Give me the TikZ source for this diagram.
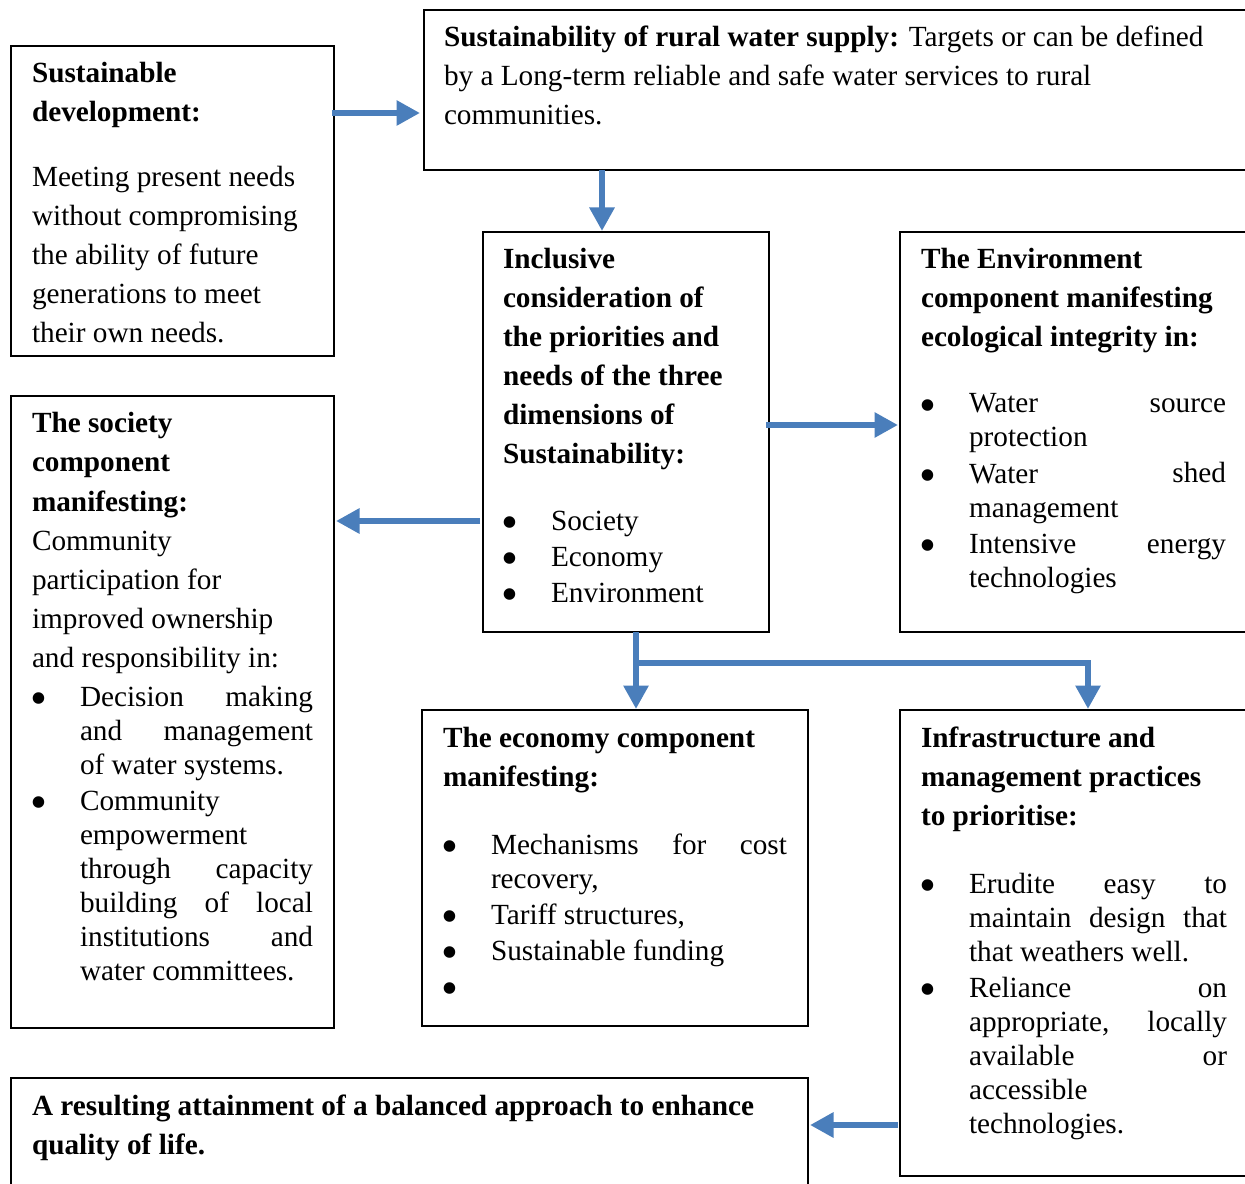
\documentclass[tikz,border=0pt]{standalone}
\usepackage{fontspec}
\setmainfont{Liberation Serif}
\usepackage{xcolor}
\usetikzlibrary{arrows.meta}
\usetikzlibrary{calc}

\definecolor{arrowblue}{RGB}{74,126,187}
\newdimen\px
\px=0.4pt
\newcommand{\boxtext}[3]{\parbox[t][#2\px][t]{#1\px}{\tolerance=10000\hbadness=10000\hyphenpenalty=10000\exhyphenpenalty=10000%
\fontsize{11.7pt}{15.6pt}\selectfont\vspace*{11\px}\rule{0pt}{26\px}#3}}
\newcommand{\listfont}{\par\fontsize{11.7pt}{13.6pt}\selectfont}
\newcommand{\bigdot}{\raisebox{-0.3em}[0pt][0pt]{\scalebox{1.65}{\textbullet}}}
\newcommand{\bitem}{\par\vspace{2\px}\hangindent=48\px\hangafter=1\noindent\makebox[48\px][l]{\hspace{-1.4\px}\bigdot}}

\begin{document}
\begin{tikzpicture}[x=0.4pt,y=-0.4pt,
  panel/.style={draw,line width=0.5pt,anchor=north west,inner xsep=21\px,inner ysep=0pt,outer sep=0pt},
  flow/.style={draw=arrowblue,line width=2.4pt,-{Triangle[length=9.4pt,width=9.6pt]}}]
\useasboundingbox (0,0) rectangle (1245,1184);
\clip (0,0) rectangle (1245,1184);

\node[panel] (sd) at (11,46) {\boxtext{281}{310}{{\bfseries Sustainable\\ development:}\par\vspace{26\px}%
Meeting present needs\\ without compromising\\ the ability of future\\ generations to meet\\ their own needs.}};
\node[panel,inner xsep=20\px] (rws) at (424,10) {\boxtext{800}{160}{{\bfseries Sustainability of rural water supply:} Targets or can be defined\\
by a Long-term reliable and safe water services to rural\\ communities.}};
\node[panel,inner xsep=20\px] (incl) at (483,232) {\boxtext{246}{400}{{\bfseries Inclusive\\ consideration of\\ the priorities and\\ needs of the three\\ dimensions of\\ Sustainability:}\par\vspace{30\px}\listfont
\bitem Society
\bitem Economy
\bitem Environment}};
\node[panel] (env) at (900,232) {\boxtext{305}{400}{{\bfseries The Environment\\ component manifesting\\ ecological integrity in:}\par\vspace{30\px}\listfont
\bitem Water source\linebreak protection
\bitem Water shed\linebreak management
\bitem Intensive energy\linebreak technologies}\hspace*{30\px}};
\node[panel] (soc) at (11,396) {\boxtext{281}{632}{{\bfseries The society\\ component\\ manifesting:}\\ Community\\ participation for\\ improved ownership\\ and responsibility in:\par\vspace{3\px}\listfont
\bitem Decision making\linebreak and management\linebreak of water systems.
\bitem Community\\ empowerment\\ through capacity\linebreak building of local\linebreak institutions and\linebreak water committees.}};
\node[panel] (eco) at (422,710) {\boxtext{344}{316}{{\bfseries The economy component\\ manifesting:}\par\vspace{32\px}\listfont
\bitem Mechanisms for cost\linebreak recovery,
\bitem Tariff structures,
\bitem Sustainable funding
\bitem }};
\node[panel] (infra) at (900,710) {\boxtext{306}{466}{{\bfseries Infrastructure and\\ management practices\\ to prioritise:}\par\vspace{32\px}\listfont
\bitem Erudite easy to\linebreak maintain design that\linebreak that weathers well.
\bitem Reliance on\linebreak appropriate, locally\linebreak available or\linebreak accessible\\ technologies.}\hspace*{30\px}};
\node[panel] (res) at (11,1078) {\boxtext{755}{130}{{\bfseries A resulting attainment of a balanced approach to enhance\\ quality of life.}}};

\draw[flow] ($(sd.north east)+(-2,67)$) -- ($(rws.north west)+(-4,103)$);
\draw[flow] ($(rws.south west)+(178,0)$) -- ($(incl.north west)+(119,-1)$);
\draw[flow] ($(incl.north east)+(-3,193)$) -- ($(env.north west)+(-2,193)$);
\draw[flow] ($(incl.north west)+(-3,289)$) -- ($(soc.north east)+(2,125)$);
\draw[flow] ($(incl.south west)+(153,0)$) -- ($(eco.north west)+(214,-1)$);
\draw[flow] ($(incl.south west)+(153,31)$) -| ($(infra.north west)+(188,-1)$);
\draw[flow] ($(infra.north west)+(-2,415)$) -- ($(res.north east)+(2,47)$);
\end{tikzpicture}
\end{document}
